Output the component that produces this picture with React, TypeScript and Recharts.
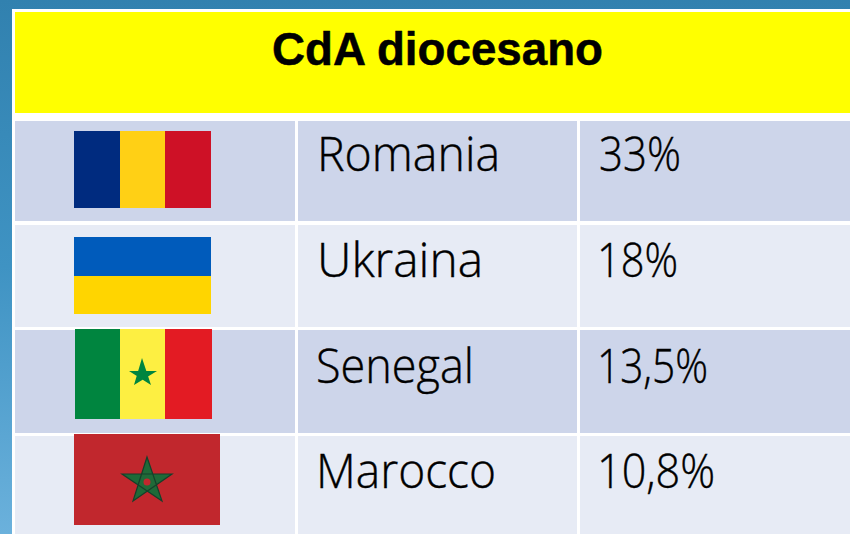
import React from "react";
import { BarChart, Bar, XAxis, YAxis, LabelList } from "recharts";

const title = "CdA diocesano";
const countries = ["Romania", "Ukraina", "Senegal", "Marocco"];
const shares = [33, 18, 13.5, 10.8];
const shareLabels = ["33%", "18%", "13,5%", "10,8%"];

const rows = countries.map((country, i) => ({ country, share: shares[i], label: shareLabels[i] }));

// layout of the table (pixels in the picture)
const rowTop = [121, 225, 330, 436];
const rowBottom = [221, 327, 433, 545];
const baseline = [171, 277, 383, 488];
const nameWidth = [183, 166, 158, 180];
const nameX = [317, 317, 316, 316];
const shareX = [599, 597, 597, 597];
const shareWidth = [82, 81, 111, 118];
const columns: [number, number][] = [[15, 295], [298, 577], [580, 850]];
const rowFill = ["#CDD5EA", "#E7EBF5", "#CDD5EA", "#E7EBF5"];
const BODY = "'Open Sans', sans-serif";

function RomaniaFlag() {
  return (
    <g>
      <rect x={74} y={131} width={46} height={77} fill="#002B7F" />
      <rect x={120} y={131} width={46} height={77} fill="#FFD015" />
      <rect x={165} y={131} width={46} height={77} fill="#CE1126" />
    </g>
  );
}
function UkraineFlag() {
  return (
    <g>
      <rect x={74} y={237} width={137} height={39} fill="#005BBB" />
      <rect x={74} y={276} width={137} height={38} fill="#FFD500" />
    </g>
  );
}
function SenegalFlag() {
  return (
    <g>
      <rect x={75} y={329} width={45} height={90} fill="#00853F" />
      <rect x={120} y={329} width={45} height={90} fill="#FDEF42" />
      <rect x={165} y={329} width={47} height={90} fill="#E31B23" />
      <polygon points="142,358 151,385 129,371 157,371 134,385" fill="#00853F" fillRule="nonzero" />
    </g>
  );
}
function MoroccoFlag() {
  return (
    <g>
      <rect x={74} y={434} width={146} height={91} fill="#C1272D" />
      <polygon points="147,457 162,501 122,474 172,474 133,501" fill="#1F6A38" fillRule="nonzero" />
      <polygon points="147,457 162,501 122,474 172,474 133,501" fill="none" stroke="#15402A" strokeWidth={1.2} />
      <circle cx={147} cy={482} r={3.5} fill="#C1272D" />
    </g>
  );
}
const flags = [RomaniaFlag, UkraineFlag, SenegalFlag, MoroccoFlag];

function RowShape(props: any) {
  const i: number = props.index;
  const Flag = flags[i];
  return (
    <g>
      {columns.map(([a, b]) => (
        <rect key={a} x={a} y={rowTop[i]} width={b - a} height={rowBottom[i] - rowTop[i]} fill={rowFill[i]} />
      ))}
      <Flag />
    </g>
  );
}

function NameLabel(props: any) {
  const i: number = props.index;
  return (
    <text x={nameX[i]} y={baseline[i]} fontFamily={BODY} fontWeight={300} fontSize={48} fill="#000" stroke="#000" strokeWidth={0.4} textLength={nameWidth[i]} lengthAdjust="spacingAndGlyphs">
      {countries[i]}
    </text>
  );
}
function ShareLabel(props: any) {
  const i: number = props.index;
  return (
    <text x={shareX[i]} y={baseline[i]} fontFamily={BODY} fontWeight={300} fontSize={48} fill="#000" stroke="#000" strokeWidth={0.4} textLength={shareWidth[i]} lengthAdjust="spacingAndGlyphs">
      {shareLabels[i]}
    </text>
  );
}
function Header() {
  return (
    <g>
      <rect x={15} y={12} width={835} height={101} fill="#FFFF00" />
      <text x={272} y={65} fontFamily="'Liberation Sans', sans-serif" fontWeight={700} fontSize={46} fill="#000" stroke="#000" strokeWidth={0.5} textLength={331} lengthAdjust="spacingAndGlyphs">
        {title}
      </text>
    </g>
  );
}

export default function App() {
  return (
    <div
      style={{
        position: "absolute",
        left: 0,
        top: 0,
        width: 850,
        height: 534,
        overflow: "hidden",
        background: "linear-gradient(to bottom, #3181AF 0%, #3F93C3 50%, #6BB1DC 100%)",
      }}
    >
      <div style={{ position: "absolute", left: 12, top: 9, width: 838, height: 525, background: "#fff" }} />
      <div style={{ position: "absolute", left: 0, top: 0 }}>
        <BarChart
          width={850}
          height={534}
          data={rows}
          layout="vertical"
          margin={{ top: 119, right: 0, bottom: 0, left: 0 }}
          barCategoryGap={0}
        >
          <XAxis type="number" domain={[0, 100]} hide />
          <YAxis type="category" dataKey="country" hide />
          <Header />
          <Bar dataKey="share" isAnimationActive={false} shape={RowShape}>
            <LabelList dataKey="country" content={NameLabel} />
            <LabelList dataKey="label" content={ShareLabel} />
          </Bar>
        </BarChart>
      </div>
    </div>
  );
}
